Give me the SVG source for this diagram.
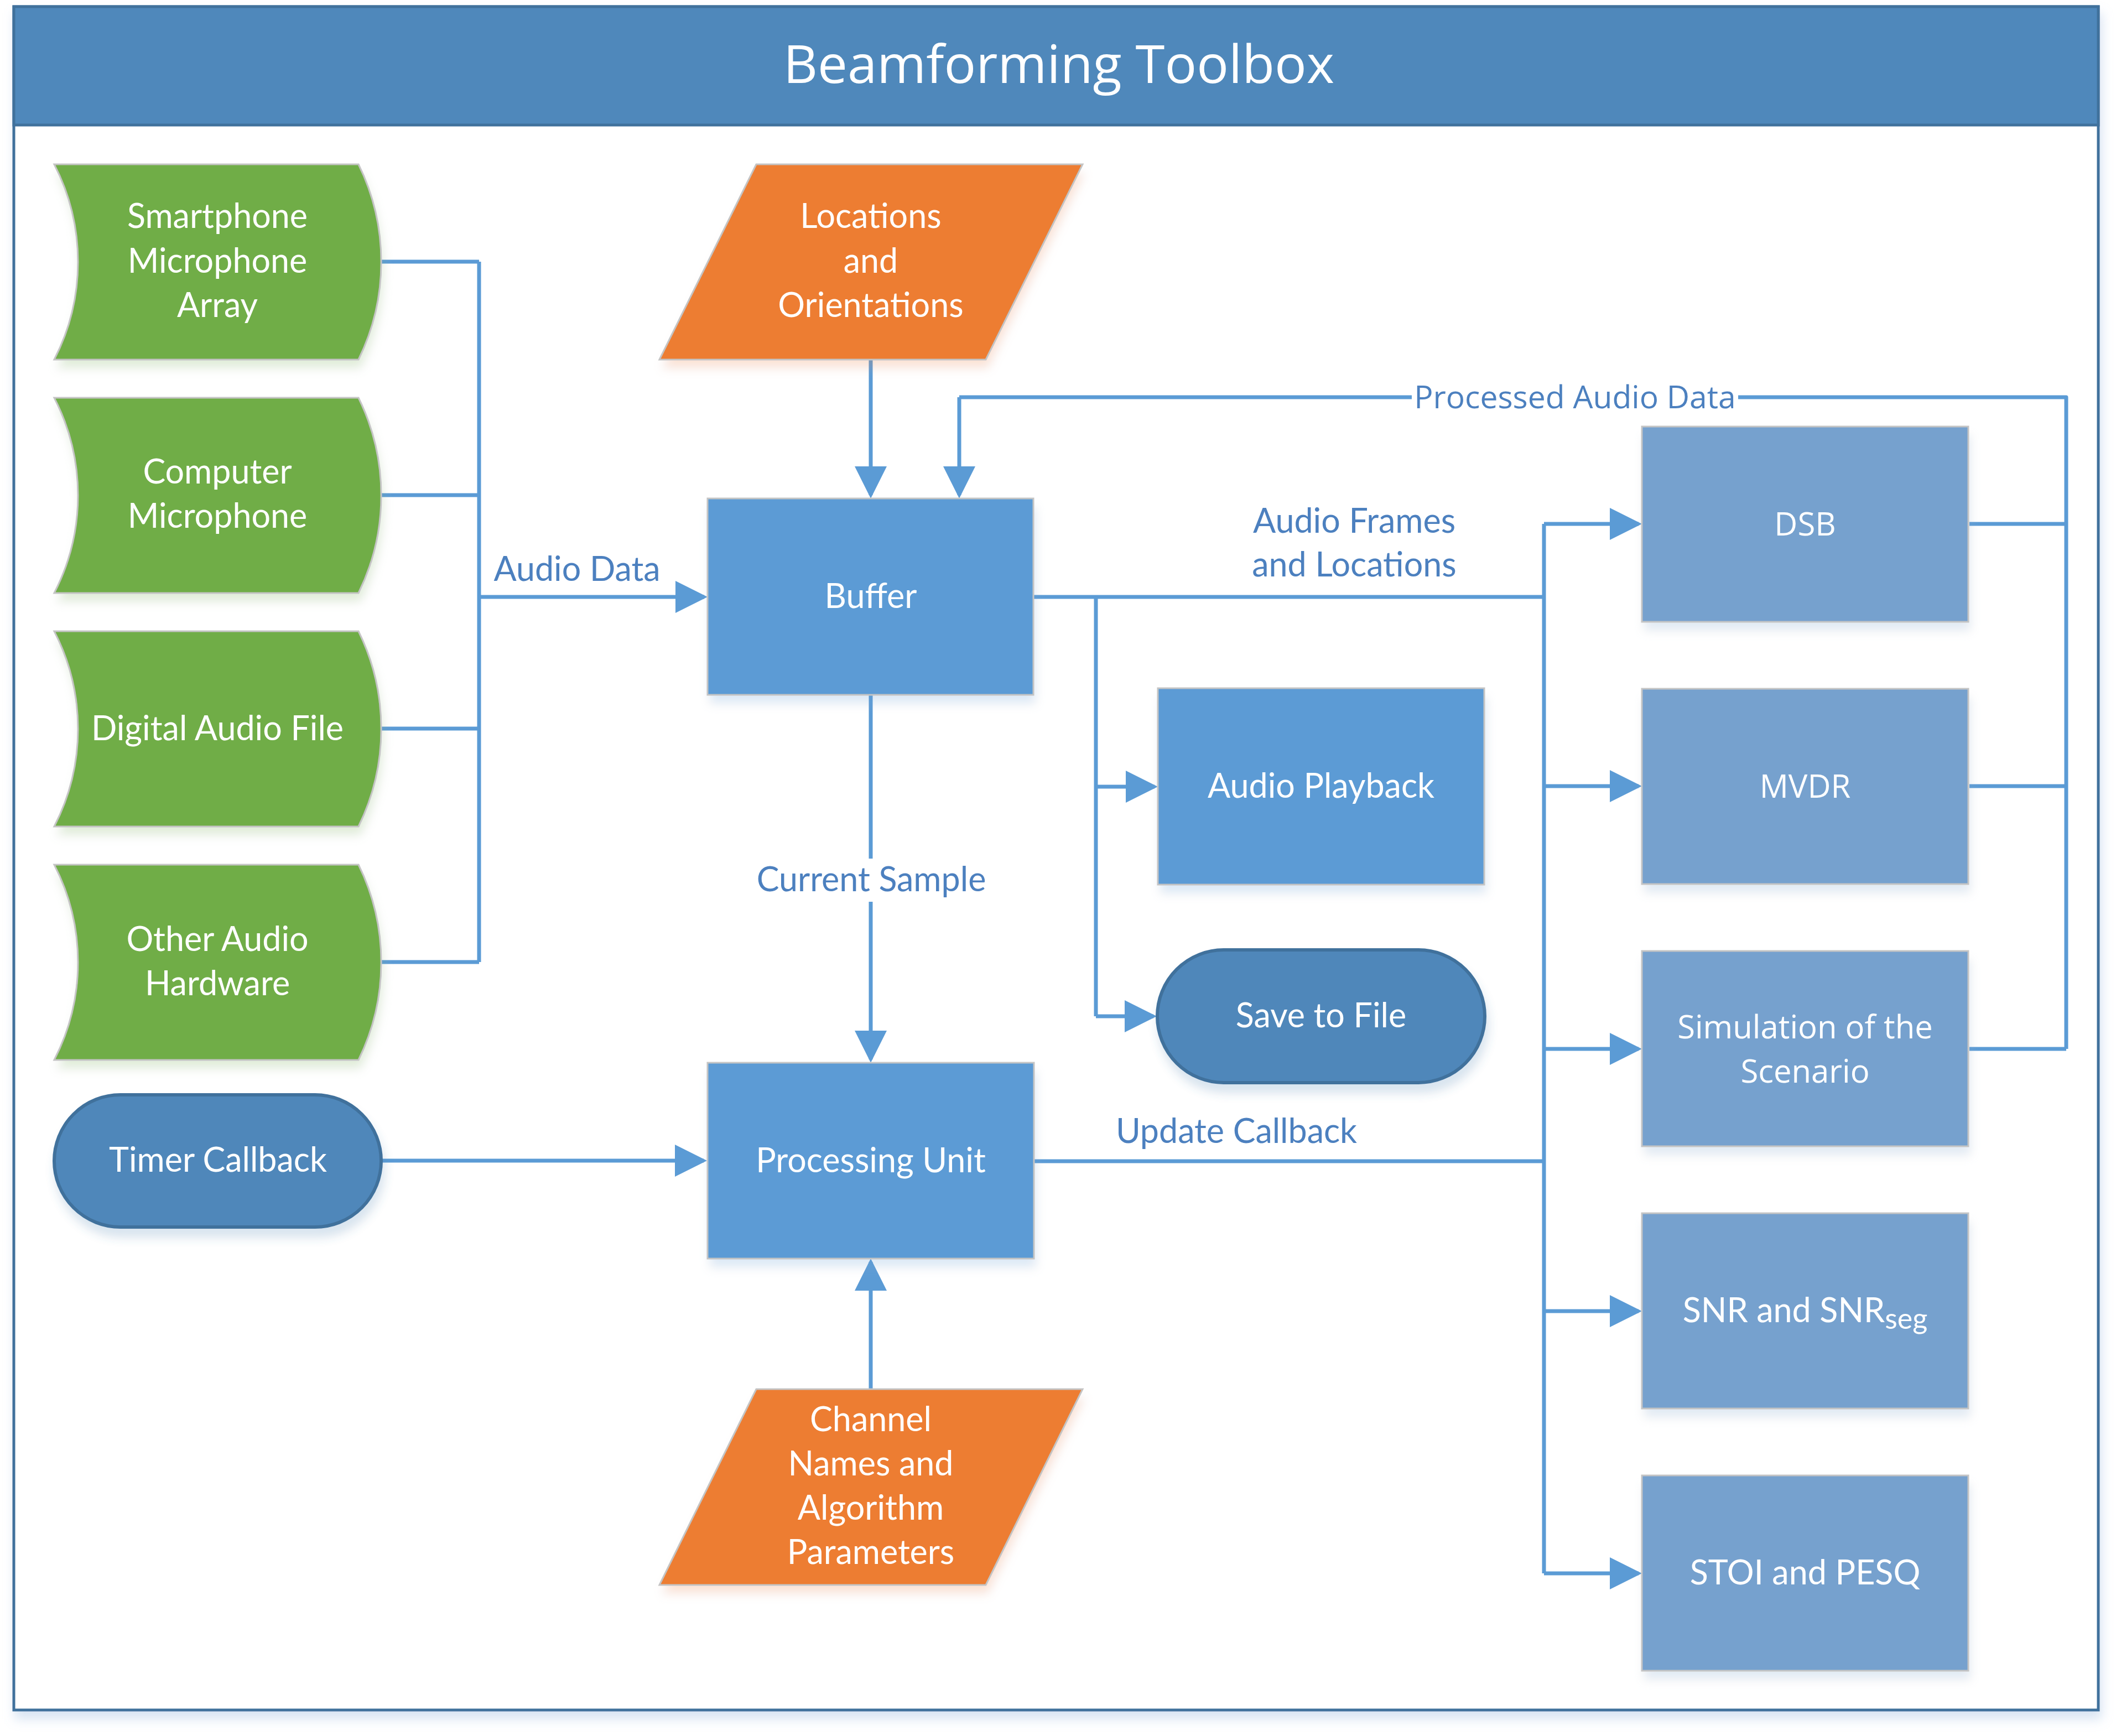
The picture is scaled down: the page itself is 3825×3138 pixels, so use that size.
<svg xmlns="http://www.w3.org/2000/svg" width="3825" height="3138" viewBox="0 0 3825 3138">
<defs>
<filter id="sh" x="-10%" y="-10%" width="120%" height="130%">
<feGaussianBlur in="SourceGraphic" stdDeviation="9" result="b"/>
<feOffset in="b" dx="4" dy="16" result="o"/>
<feComponentTransfer in="o" result="s"><feFuncA type="linear" slope="0.22"/></feComponentTransfer>
<feMerge><feMergeNode in="s"/><feMergeNode in="SourceGraphic"/></feMerge>
</filter>
<filter id="fsh" x="-2%" y="-2%" width="104%" height="104%">
<feFlood flood-color="#8FB0DC" flood-opacity="0.35"/>
<feComposite in2="SourceAlpha" operator="in"/>
<feGaussianBlur stdDeviation="10"/>
<feOffset dx="4" dy="14" result="s"/>
<feMerge><feMergeNode in="s"/><feMergeNode in="SourceGraphic"/></feMerge>
</filter>
<marker id="ah" markerUnits="userSpaceOnUse" markerWidth="58" markerHeight="58" viewBox="0 0 58 58" refX="52" refY="29" orient="auto">
<path d="M0,0 L58,29 L0,58 Z" fill="#5B9BD5"/>
</marker>
</defs>
<style>
.cal{font-family:Lato,"Open Sans",sans-serif;font-size:61px;text-anchor:middle}
.seg{font-family:"Open Sans","Noto Sans",sans-serif;font-size:58px;text-anchor:middle}
.wt{fill:#FFFFFF}
.lbl{fill:#4C80BF}
.thin{stroke:#C4C4C4;stroke-width:3}
.blue{fill:#5B9BD5}
.pale{fill:#76A1CE}
.dark{fill:#4F87BA;stroke:#41719C;stroke-width:6}
.green{fill:#70AD47}
.orange{fill:#ED7D31}
.cn{fill:none;stroke:#5B9BD5;stroke-width:7;stroke-linejoin:round}
.ar{marker-end:url(#ah)}
</style>
<rect width="3825" height="3138" fill="#FFFFFF"/>
<g id="frame" filter="url(#fsh)">
<rect x="25" y="12" width="3768" height="3079" fill="#FFFFFF" stroke="#41719C" stroke-width="5"/>
<rect x="25" y="12" width="3768" height="214" fill="#4F88BB" stroke="#41719C" stroke-width="5"/>
<text x="1914" y="150" style="font-family:'Open Sans','Noto Sans',sans-serif;font-size:96px;text-anchor:middle" fill="#FFFFFF">Beamforming Toolbox</text>
</g>

<g id="connectors">
<path class="cn" d="M689,473 H866 M689,895 H866 M689,1317 H866 M689,1739 H866 M866,473 V1739"/>
<path class="cn ar" d="M866,1079 H1273"/>
<path class="cn ar" d="M1574,650 V895"/>
<path class="cn" d="M3560,947 H3735 M3560,1421 H3735 M3560,1896 H3735 M3735,1896 V718 H3142 M2552,718 H1734"/>
<path class="cn ar" d="M1734,718 V895"/>
<path class="cn" d="M1868,1079 H2791 M2791,947 V2844"/>
<path class="cn ar" d="M2791,947 H2962"/>
<path class="cn ar" d="M2791,1421 H2962"/>
<path class="cn ar" d="M2791,1896 H2962"/>
<path class="cn ar" d="M2791,2370 H2962"/>
<path class="cn ar" d="M2791,2844 H2962"/>
<path class="cn" d="M1981,1079 V1837"/>
<path class="cn ar" d="M1981,1422 H2087"/>
<path class="cn ar" d="M1981,1837 H2085"/>
<path class="cn" d="M1574,1256 V1552"/>
<path class="cn ar" d="M1574,1630 V1915"/>
<path class="cn ar" d="M689,2098 H1272"/>
<path class="cn" d="M1869,2099 H2791"/>
<path class="cn ar" d="M1574,2511 V2281"/>
<text class="cal lbl" x="1043" y="1050">Audio Data</text>
<text class="seg lbl" x="2847" y="738" style="font-size:57px">Processed Audio Data</text>
<text class="cal lbl" x="2448" y="963">Audio Frames</text>
<text class="cal lbl" x="2448" y="1042">and Locations</text>
<text class="cal lbl" x="1575" y="1611">Current Sample</text>
<text class="cal lbl" x="2235" y="2066">Update Callback</text>
</g>

<g id="smartphone" filter="url(#sh)">
<path class="green thin" d="M98,297 H648 A400,400 0 0 1 648,650 H98 A384,384 0 0 0 98,297 Z"/>
<text class="cal wt" x="393" y="412">Smartphone</text>
<text class="cal wt" x="393" y="493">Microphone</text>
<text class="cal wt" x="393" y="573">Array</text>
</g>
<g id="computer-mic" filter="url(#sh)">
<path class="green thin" d="M98,719 H648 A400,400 0 0 1 648,1072 H98 A384,384 0 0 0 98,719 Z"/>
<text class="cal wt" x="393" y="874">Computer</text>
<text class="cal wt" x="393" y="954">Microphone</text>
</g>
<g id="digital-audio-file" filter="url(#sh)">
<path class="green thin" d="M98,1141 H648 A400,400 0 0 1 648,1494 H98 A384,384 0 0 0 98,1141 Z"/>
<text class="cal wt" x="393" y="1338">Digital Audio File</text>
</g>
<g id="other-audio-hardware" filter="url(#sh)">
<path class="green thin" d="M98,1563 H648 A400,400 0 0 1 648,1916 H98 A384,384 0 0 0 98,1563 Z"/>
<text class="cal wt" x="393" y="1719">Other Audio</text>
<text class="cal wt" x="393" y="1799">Hardware</text>
</g>
<g id="timer-callback" filter="url(#sh)">
<rect class="dark" x="98" y="1979" width="591" height="239" rx="119.5" ry="119.5"/>
<text class="cal wt" x="394" y="2118">Timer Callback</text>
</g>

<g id="locations" filter="url(#sh)">
<path class="orange thin" d="M1367,297 H1957 L1782,650 H1192 Z"/>
<text class="cal wt" x="1574" y="412">Locations</text>
<text class="cal wt" x="1574" y="493">and</text>
<text class="cal wt" x="1574" y="573">Orientations</text>
</g>
<g id="buffer" filter="url(#sh)">
<rect class="blue thin" x="1279" y="901" width="589" height="355"/>
<text class="cal wt" x="1574" y="1099">Buffer</text>
</g>
<g id="processing-unit" filter="url(#sh)">
<rect class="blue thin" x="1279" y="1921" width="590" height="354"/>
<text class="cal wt" x="1574" y="2119">Processing Unit</text>
</g>
<g id="channel-names" filter="url(#sh)">
<path class="orange thin" d="M1367,2511 H1957 L1782,2865 H1192 Z"/>
<text class="cal wt" x="1574" y="2587">Channel</text>
<text class="cal wt" x="1574" y="2667">Names and</text>
<text class="cal wt" x="1574" y="2747">Algorithm</text>
<text class="cal wt" x="1574" y="2827">Parameters</text>
</g>

<g id="audio-playback" filter="url(#sh)">
<rect class="blue thin" x="2093" y="1244" width="590" height="355"/>
<text class="cal wt" x="2388" y="1442">Audio Playback</text>
</g>
<g id="save-to-file" filter="url(#sh)">
<rect class="dark" x="2092" y="1717" width="592" height="240" rx="120" ry="120"/>
<text class="cal wt" x="2388" y="1857">Save to File</text>
</g>

<g id="dsb" filter="url(#sh)">
<rect class="pale thin" x="2968" y="771" width="590" height="353"/>
<text class="seg wt" x="3263" y="968">DSB</text>
</g>
<g id="mvdr" filter="url(#sh)">
<rect class="pale thin" x="2968" y="1245" width="590" height="353"/>
<text class="seg wt" x="3263" y="1442">MVDR</text>
</g>
<g id="simulation" filter="url(#sh)">
<rect class="pale thin" x="2968" y="1719" width="590" height="353"/>
<text class="seg wt" x="3263" y="1877">Simulation of the</text>
<text class="seg wt" x="3263" y="1957">Scenario</text>
</g>
<g id="snr" filter="url(#sh)">
<rect class="pale thin" x="2968" y="2193" width="590" height="353"/>
<text class="cal wt" x="3263" y="2390">SNR and SNR<tspan font-size="52" dy="12">seg</tspan></text>
</g>
<g id="stoi-pesq" filter="url(#sh)">
<rect class="pale thin" x="2968" y="2667" width="590" height="353"/>
<text class="cal wt" x="3263" y="2864">STOI and PESQ</text>
</g>
</svg>
